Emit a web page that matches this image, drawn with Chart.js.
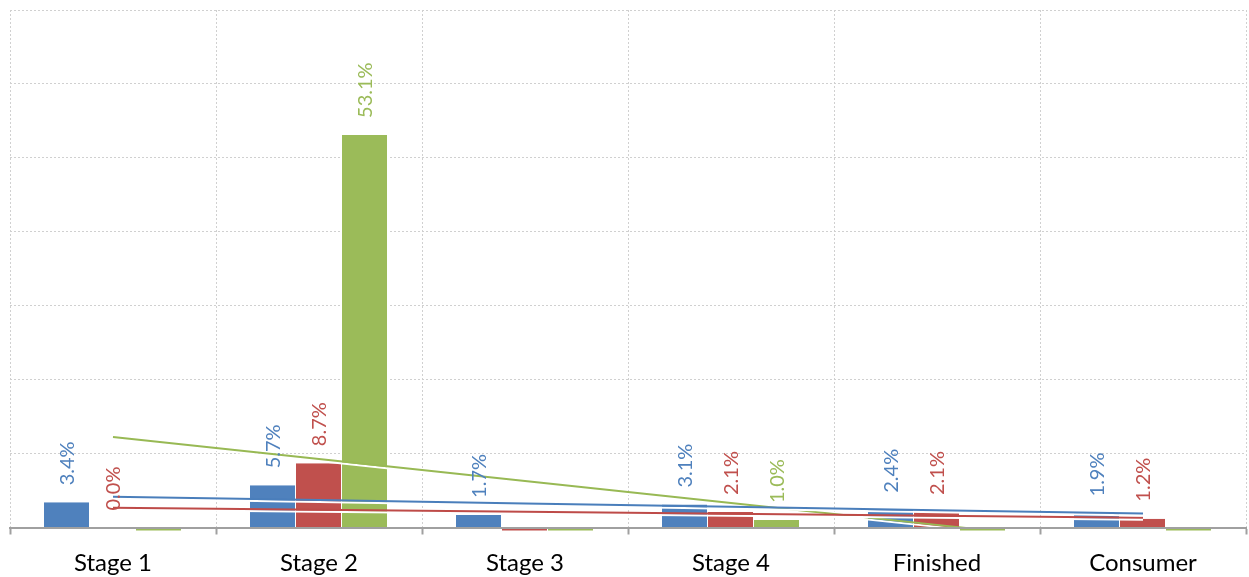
<!DOCTYPE html>
<html>
<head>
<meta charset="utf-8">
<script src="https://cdn.jsdelivr.net/npm/chart.js@4.4.1/dist/chart.umd.min.js"></script>
<style>
html,body{margin:0;padding:0;background:#fff;}
canvas{display:block;}
</style>
</head>
<body>
<canvas id="c" width="1249" height="577"></canvas>
<script>
// ---- data ----
const categories = ['Stage 1', 'Stage 2', 'Stage 3', 'Stage 4', 'Finished', 'Consumer'];
const blueValues  = [3.4, 5.7, 1.7, 3.1, 2.4, 1.9];
const redValues   = [0.0, 8.7, -2.2, 2.1, 2.1, 1.2];
const greenValues = [-13.0, 53.1, -7.3, 1.0, -3.2, -1.7];
const yMin = 0, yMax = 70, yStep = 10;

const blueColor = '#4F81BD', redColor = '#C0504D', greenColor = '#9BBB59';

// linear least-squares trendline (as the spreadsheet's linear trendline)
function linearTrend(values) {
  const n = values.length;
  const xs = values.map((_, i) => i + 1);
  const mx = xs.reduce((a, b) => a + b, 0) / n;
  const my = values.reduce((a, b) => a + b, 0) / n;
  let sxy = 0, sxx = 0;
  for (let i = 0; i < n; i++) { sxy += (xs[i] - mx) * (values[i] - my); sxx += (xs[i] - mx) ** 2; }
  const slope = sxy / sxx;
  return xs.map(x => my + slope * (x - mx));
}

const labelPlugin = {
  id: 'barLabels',
  afterDatasetsDraw(chart) {
    const ctx = chart.ctx;
    chart.data.datasets.forEach((ds, i) => {
      if (ds.type !== 'bar') return;
      const meta = chart.getDatasetMeta(i);
      meta.data.forEach((bar, j) => {
        const v = ds.data[j];
        if (v < 0) return;
        ctx.save();
        ctx.translate(bar.x, bar.y - 17);
        ctx.rotate(-Math.PI / 2);
        ctx.font = '20px Lato';
        ctx.fillStyle = ds.backgroundColor;
        ctx.textAlign = 'left';
        ctx.textBaseline = 'middle';
        ctx.fillText(v.toFixed(1) + '%', 0, 1);
        ctx.restore();
      });
    });
  }
};

const shadowPlugin = {
  id: 'trendShadow',
  beforeDatasetDraw(chart, args) {
    const ds = chart.data.datasets[args.index];
    if (ds.type === 'line') {
      const ctx = chart.ctx;
      ctx.save();
      ctx.shadowColor = '#ffffff';
      ctx.shadowOffsetX = 0;
      ctx.shadowOffsetY = 2;
      ctx.shadowBlur = 0;
    }
  },
  afterDatasetDraw(chart, args) {
    const ds = chart.data.datasets[args.index];
    if (ds.type === 'line') chart.ctx.restore();
  }
};

function barSet(data, color) {
  return {
    type: 'bar', data, backgroundColor: color, borderColor: '#ffffff',
    borderWidth: {left: 0, top: 0, bottom: 0, right: 1}, borderSkipped: false,
    categoryPercentage: 0.67, barPercentage: 1.0, order: 1,
    clip: {left: 0, top: 0, right: 0, bottom: 3}
  };
}
function trendSet(values, color) {
  return {
    type: 'line', data: linearTrend(values), borderColor: color, borderWidth: 2,
    pointRadius: 0, tension: 0, fill: false, order: 0
  };
}

new Chart(document.getElementById('c'), {
  type: 'bar',
  data: {
    labels: categories,
    datasets: [
      barSet(blueValues, blueColor),
      barSet(redValues, redColor),
      barSet(greenValues, greenColor),
      trendSet(blueValues, '#4A7EBB'),
      trendSet(redValues, '#BE4B48'),
      trendSet(greenValues, '#98B954')
    ]
  },
  options: {
    responsive: false,
    animation: false,
    devicePixelRatio: 1,
    layout: {padding: {left: 10, right: 3, top: 10, bottom: 0}},
    plugins: {legend: {display: false}, tooltip: {enabled: false}},
    scales: {
      x: {
        offset: true,
        grid: {offset: true, color: '#d0d0d0', lineWidth: 1, tickColor: '#a0a0a0', tickWidth: 2, tickLength: 7},
        border: {display: true, color: '#a0a0a0', width: 2, dash: [2, 2], z: 1},
        ticks: {color: '#000', font: {family: 'Lato', size: 24}, padding: 14, maxRotation: 0, autoSkip: false},
        afterFit(scale) { scale.height = 49.5; }
      },
      y: {
        min: yMin, max: yMax,
        ticks: {display: false, stepSize: yStep},
        grid: {color: '#d0d0d0', lineWidth: 1, drawTicks: false},
        border: {display: false, dash: [2, 2]},
        afterFit(scale) { scale.width = 0; }
      }
    }
  },
  plugins: [labelPlugin, shadowPlugin]
});
</script>
</body>
</html>
